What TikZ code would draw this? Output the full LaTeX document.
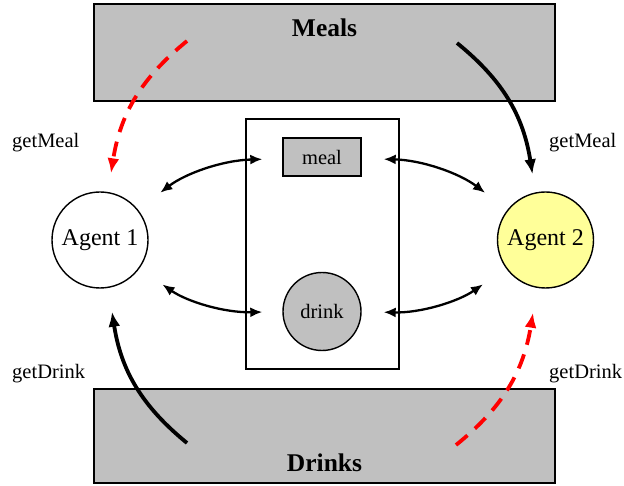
\documentclass[tikz,border=0pt]{standalone}
\usepackage{fontspec}
\setmainfont{Liberation Serif}
\usetikzlibrary{arrows.meta, positioning, calc}
\definecolor{boxgray}{RGB}{192,192,192}
\definecolor{agentyellow}{RGB}{255,255,153}

\begin{document}
\begin{tikzpicture}[
    x=1pt, y=-1pt,
    >={Latex[length=12pt,width=10pt]},
    txt/.style={font=\fontsize{20.5}{24}\selectfont, inner sep=0pt},
    srclabel/.style={font=\fontsize{25.5}{30}\selectfont\bfseries, inner sep=0pt},
    source/.style={draw=black, line width=1.8pt, fill=boxgray, minimum width=461pt, inner sep=0pt},
    agent/.style={circle, draw=black, line width=1.4pt, minimum size=96pt, inner sep=0pt, font=\fontsize{24}{28}\selectfont},
    stock/.style={draw=black, line width=1.4pt, fill=boxgray, inner sep=0pt, font=\fontsize{20.5}{24}\selectfont},
    share/.style={<->, line width=2.3pt},
    fetch/.style={-{Latex[length=15pt,width=12pt]}, line width=3.8pt},
    lazy/.style={fetch, red, dash pattern=on 15pt off 10pt}
]
\useasboundingbox (0,0) rectangle (624,486);

% ---- sources ----
\node[source, minimum height=97pt] (meals) at (324.5,52.5) {};
\node[srclabel, anchor=base] (mealsTxt) at (324.5,37) {Meals};
\node[source, minimum height=94pt] (drinks) at (324.5,436) {};
\node[srclabel, anchor=base] (drinksTxt) at (324.5,471) {Drinks};

% ---- shared store ----
\node[draw=black, line width=1.6pt, minimum width=153pt, minimum height=250pt, inner sep=0pt] (store) at (322.5,244) {};
\node[stock, minimum width=78pt, minimum height=38pt] (meal) at (322,157) {meal};
\node[stock, circle, minimum size=78pt] (drink) at (322,311.5) {drink};

% ---- agents ----
\node[agent, fill=white] (agent1) at (100,240) {Agent 1};
\node[agent, fill=agentyellow] (agent2) at (545.5,240) {Agent 2};

% access to the store
\draw[share, shorten <=28pt, shorten >=20pt] (agent1) to[bend left=18] (meal);
\draw[share, shorten <=28pt, shorten >=20pt] (agent1) to[bend right=18] (drink);
\draw[share, shorten <=22pt, shorten >=28pt] (meal) to[bend left=18] (agent2);
\draw[share, shorten <=22pt, shorten >=28pt] (drink) to[bend right=18] (agent2);

% ---- fetching from the sources ----
\coordinate (mealsL) at (187,41);
\coordinate (mealsR) at (457,43);
\coordinate (drinksL) at (187,443);
\coordinate (drinksR) at (456,445);
\draw[fetch] (mealsR) to[bend left=21] ([xshift=-13pt,yshift=17pt]agent2.north);
\draw[lazy] (mealsL) to[bend right=21] ([xshift=11pt,yshift=18pt]agent1.north);
\draw[fetch] (drinksL) to[bend left=21] ([xshift=12pt,yshift=-23pt]agent1.south);
\draw[lazy] (drinksR) to[bend right=21] ([xshift=-12.5pt,yshift=-24pt]agent2.south);

% labels
\node[txt, anchor=base west] (getMealL) at (12,148) {getMeal};
\node[txt, anchor=base west] (getMealR) at (549,148) {getMeal};
\node[txt, anchor=base west] (getDrinkL) at (12,378) {getDrink};
\node[txt, anchor=base west] (getDrinkR) at (549,378) {getDrink};

\end{tikzpicture}
\end{document}
